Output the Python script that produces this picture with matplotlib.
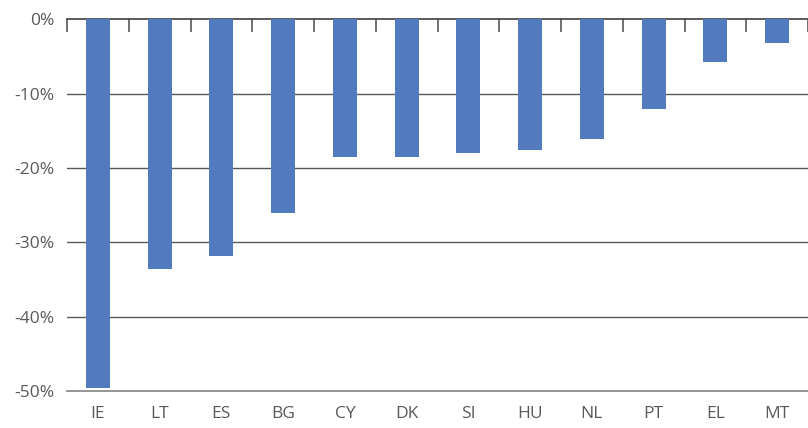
import numpy as np
import matplotlib.pyplot as plt
from matplotlib.ticker import FixedLocator

countries = ["IE", "LT", "ES", "BG", "CY", "DK", "SI", "HU", "NL", "PT", "EL", "MT"]
change_pct = [-49.6, -33.6, -31.8, -26.0, -18.5, -18.5, -18.0, -17.6, -16.1, -12.0, -5.8, -3.2]
y_ticks = [0, -10, -20, -30, -40, -50]

plt.rcParams['font.family'] = ['Open Sans', 'DejaVu Sans']

fig = plt.figure(figsize=(8.08, 4.28), dpi=100)
ax = fig.add_axes([0.083, 0.086, 0.917, 0.869])

x = np.arange(len(countries))
ax.bar(x, change_pct, width=0.39, color="#527bbf", zorder=3)

ax.set_xlim(-0.5, len(countries) - 0.5)
ax.set_ylim(-50, 0)

# gridlines
for v in y_ticks[1:-1]:
    ax.axhline(v, color="#595959", lw=1, zorder=1)
ax.axhline(-50, color="#8c8c8c", lw=1.3, zorder=1, clip_on=False)

for s in ["left", "right", "bottom"]:
    ax.spines[s].set_visible(False)
ax.spines["top"].set_color("#404040")
ax.spines["top"].set_linewidth(1.2)

ax.set_yticks(y_ticks)
ax.set_yticklabels([f"{v}%" for v in y_ticks])
ax.tick_params(axis="y", length=0, pad=9, labelsize=12.5, labelcolor="#595959")

ax.set_xticks(x)
ax.set_xticklabels(countries)
ax.tick_params(axis="x", which="major", length=0, pad=11, labelsize=12.5, labelcolor="#595959")

# category boundary ticks hanging from the zero line
ax.xaxis.set_minor_locator(FixedLocator(np.arange(-0.5, len(countries), 1.0)))
ax.tick_params(axis="x", which="minor", bottom=False, top=True, direction="in",
               length=9, width=1.2, color="#595959")

fig.savefig("out.png", dpi=100)
